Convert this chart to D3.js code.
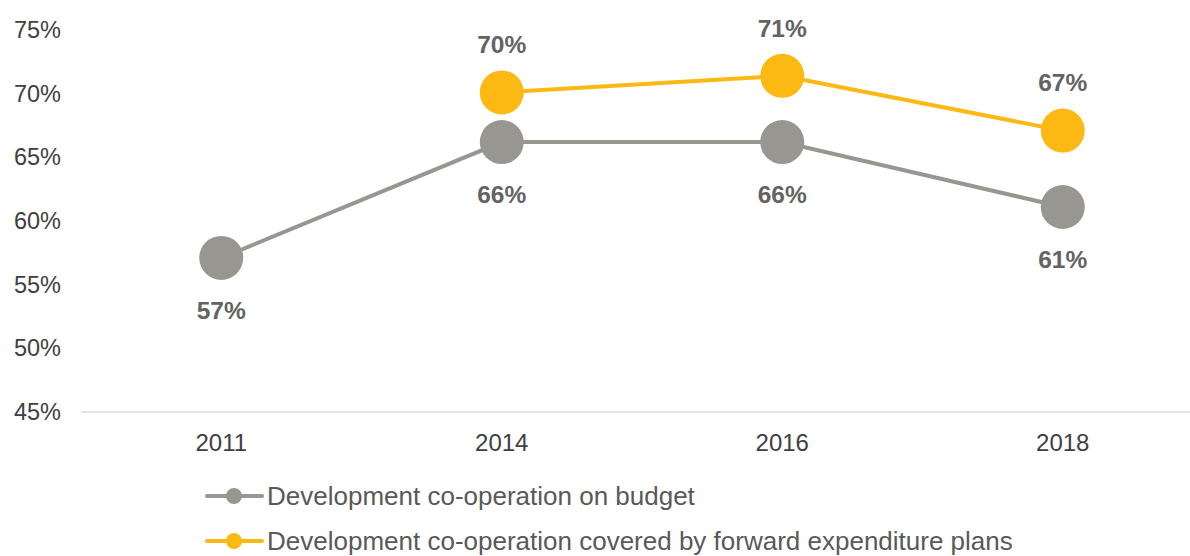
<!doctype html>
<html lang="en">
<head>
<meta charset="utf-8">
<title>Development co-operation</title>
<script src="https://cdn.jsdelivr.net/npm/d3@7"></script>
<style>
  body { margin: 0; background: #fff; }
  svg { display: block; font-family: "Liberation Sans", Arial, sans-serif; }
</style>
</head>
<body>
<svg width="1190" height="556"></svg>
<script>
  var years = ["2011", "2014", "2016", "2018"];
  var onBudget = [57.1, 66.2, 66.2, 61.1];
  var forwardPlans = [null, 70.1, 71.4, 67.1];
  var yTicks = [45, 50, 55, 60, 65, 70, 75];

  var series = [
    { name: "Development co-operation on budget", values: onBudget, color: "#979691", labelPos: "below" },
    { name: "Development co-operation covered by forward expenditure plans", values: forwardPlans, color: "#FDB913", labelPos: "above" }
  ];

  var svg = d3.select("svg");

  var x = d3.scaleBand()
      .domain(years)
      .range([81, 1203]);

  var y = d3.scaleLinear()
      .domain([45, 75])
      .range([412, 30]);

  // baseline
  svg.append("line")
      .attr("x1", 81).attr("x2", 1190)
      .attr("y1", y(45)).attr("y2", y(45))
      .attr("stroke", "#d9d9d9")
      .attr("stroke-width", 1.5);

  // y axis labels
  var yAxis = svg.append("g")
      .attr("transform", "translate(61,0)")
      .call(d3.axisLeft(y).tickValues(yTicks).tickSize(0).tickPadding(0)
          .tickFormat(function (d) { return d + "%"; }));
  yAxis.select(".domain").remove();
  yAxis.selectAll("text")
      .attr("font-family", "Liberation Sans, Arial, sans-serif")
      .attr("font-size", "23.5px")
      .attr("fill", "#404040");

  // x axis labels
  var xAxis = svg.append("g")
      .attr("transform", "translate(0," + (y(45) + 22) + ")")
      .call(d3.axisBottom(x).tickSize(0).tickPadding(0));
  xAxis.select(".domain").remove();
  xAxis.selectAll("text")
      .attr("font-family", "Liberation Sans, Arial, sans-serif")
      .attr("font-size", "24px")
      .attr("fill", "#404040");

  var cx = function (i) { return x(years[i]) + x.bandwidth() / 2; };

  var line = d3.line()
      .defined(function (d) { return d != null; })
      .x(function (d, i) { return cx(i); })
      .y(function (d) { return y(d); });

  series.forEach(function (s) {
    svg.append("path")
        .datum(s.values)
        .attr("fill", "none")
        .attr("stroke", s.color)
        .attr("stroke-width", 4)
        .attr("d", line);

    var pts = s.values.map(function (v, i) { return { v: v, i: i }; })
        .filter(function (d) { return d.v != null; });

    svg.append("g").selectAll("circle")
        .data(pts)
        .enter().append("circle")
        .attr("cx", function (d) { return cx(d.i); })
        .attr("cy", function (d) { return y(d.v); })
        .attr("r", 22)
        .attr("fill", s.color);

    svg.append("g").selectAll("text")
        .data(pts)
        .enter().append("text")
        .attr("x", function (d) { return cx(d.i); })
        .attr("y", function (d) { return y(d.v) + (s.labelPos === "above" ? -48 : 52); })
        .attr("dy", "0.36em")
        .attr("text-anchor", "middle")
        .attr("font-size", "24.5px")
        .attr("font-weight", "bold")
        .attr("fill", "#636363")
        .text(function (d) { return Math.round(d.v) + "%"; });
  });

  // legend
  var legend = svg.append("g")
      .selectAll("g")
      .data(series)
      .enter().append("g")
      .attr("transform", function (d, i) { return "translate(207," + (496 + i * 45) + ")"; });

  legend.append("line")
      .attr("x1", 0).attr("x2", 55)
      .attr("y1", 0).attr("y2", 0)
      .attr("stroke", function (d) { return d.color; })
      .attr("stroke-width", 4)
      .attr("stroke-linecap", "round");

  legend.append("circle")
      .attr("cx", 27).attr("cy", 0)
      .attr("r", 8)
      .attr("fill", function (d) { return d.color; });

  legend.append("text")
      .attr("x", 60)
      .attr("y", 0)
      .attr("dy", "0.36em")
      .attr("font-size", "26px")
      .attr("fill", "#595959")
      .text(function (d) { return d.name; });
</script>
</body>
</html>
